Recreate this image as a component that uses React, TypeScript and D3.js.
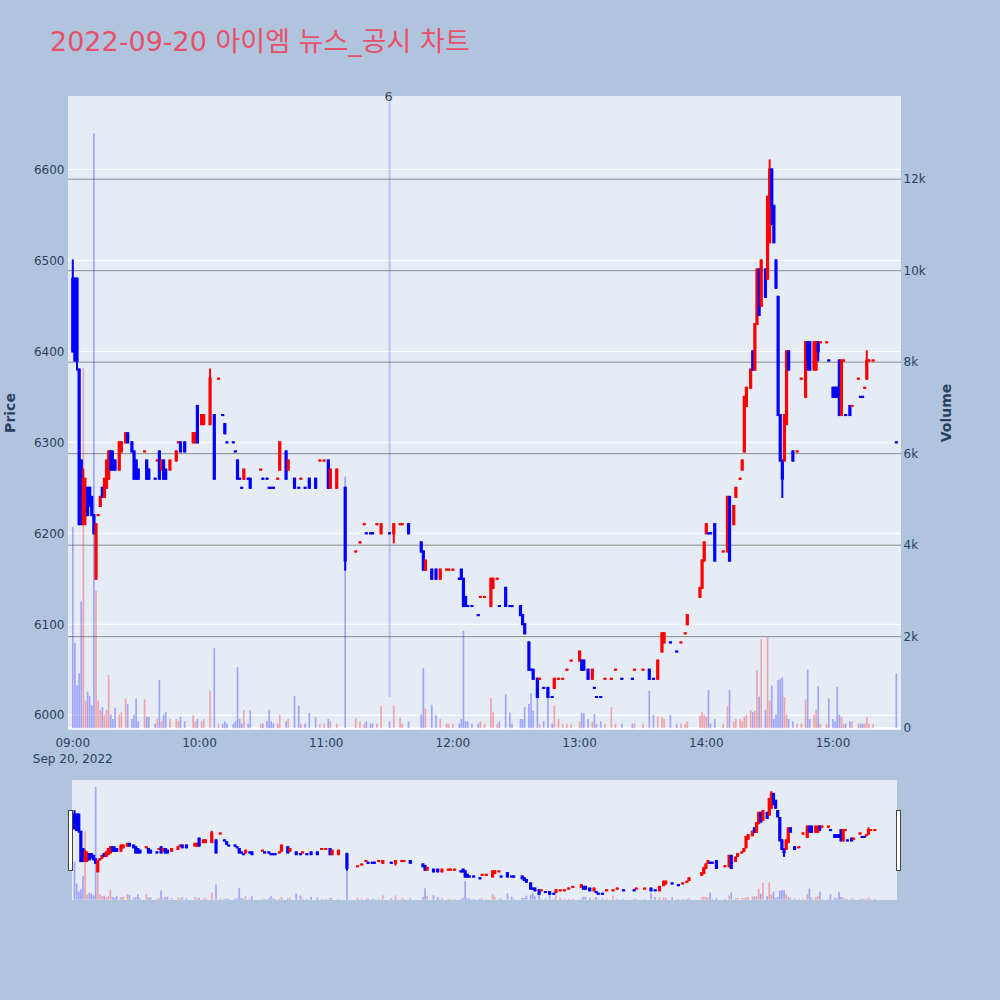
import React from "react";
import * as d3 from "d3";

// ---- 1-minute bars, 2022-09-20 ----
const sessionDay = "2022-09-20";
const chartTitle = "2022-09-20 아이엠 뉴스_공시 차트";

const times = [
  "09:00","09:01","09:02","09:03","09:04","09:05","09:06","09:07","09:08","09:09",
  "09:10","09:11","09:12","09:13","09:14","09:15","09:16","09:17","09:18","09:19",
  "09:20","09:22","09:23","09:25","09:26","09:28","09:29","09:30","09:31","09:34",
  "09:35","09:36","09:39","09:40","09:41","09:42","09:43","09:44","09:46","09:49",
  "09:50","09:51","09:53","09:57","09:58","09:59","10:01","10:02","10:05","10:07",
  "10:09","10:11","10:12","10:13","10:16","10:17","10:18","10:19","10:20","10:21",
  "10:23","10:24","10:29","10:30","10:32","10:33","10:34","10:35","10:37","10:38",
  "10:41","10:42","10:45","10:47","10:48","10:50","10:52","10:55","10:57","10:59",
  "11:01","11:02","11:05","11:09","11:14","11:16","11:18","11:19","11:21","11:22",
  "11:24","11:26","11:30","11:32","11:35","11:36","11:39","11:45","11:46","11:47",
  "11:50","11:52","11:54","11:57","11:58","12:00","12:03","12:04","12:05","12:06",
  "12:07","12:09","12:12","12:13","12:15","12:18","12:19","12:21","12:22","12:25",
  "12:27","12:28","12:32","12:33","12:34","12:36","12:37","12:38","12:40","12:41",
  "12:43","12:45","12:47","12:48","12:50","12:52","12:54","12:56","13:00","13:01",
  "13:02","13:04","13:06","13:07","13:08","13:10","13:12","13:15","13:17","13:20",
  "13:25","13:26","13:30","13:33","13:35","13:37","13:39","13:40","13:43","13:46",
  "13:48","13:50","13:51","13:57","13:58","13:59","14:00","14:01","14:02","14:04",
  "14:08","14:10","14:11","14:13","14:14","14:16","14:17","14:18","14:19","14:21",
  "14:22","14:23","14:24","14:25","14:26","14:28","14:29","14:30","14:31","14:32",
  "14:33","14:34","14:35","14:36","14:37","14:38","14:39","14:41","14:43","14:45",
  "14:47","14:48","14:49","14:51","14:52","14:53","14:54","14:57","14:58","15:00",
  "15:01","15:02","15:03","15:04","15:05","15:06","15:08","15:09","15:12","15:13",
  "15:14","15:15","15:16","15:17","15:19","15:30",
];

const opens = [
  6480,6480,6480,6380,6280,6210,6220,6250,6250,6240,
  6220,6150,6220,6230,6250,6240,6250,6260,6290,6280,
  6280,6270,6290,6300,6310,6300,6290,6280,6270,6290,
  6280,6270,6260,6280,6290,6270,6280,6270,6270,6280,
  6300,6300,6300,6300,6300,6340,6320,6320,6320,6330,
  6370,6330,6320,6300,6300,6290,6280,6260,6250,6260,
  6260,6260,6270,6260,6260,6250,6250,6250,6260,6270,
  6290,6270,6260,6250,6260,6250,6260,6260,6280,6280,
  6280,6250,6250,6250,6180,6190,6210,6200,6200,6200,
  6210,6200,6200,6200,6210,6210,6210,6190,6180,6160,
  6160,6160,6150,6160,6160,6160,6150,6160,6150,6130,
  6120,6120,6110,6130,6130,6120,6140,6150,6120,6140,
  6120,6120,6120,6110,6100,6080,6050,6050,6040,6040,
  6030,6030,6020,6030,6040,6040,6050,6060,6060,6060,
  6060,6050,6040,6030,6020,6020,6040,6040,6050,6040,
  6040,6050,6050,6050,6040,6040,6070,6080,6080,6070,
  6080,6090,6100,6130,6140,6170,6200,6200,6200,6210,
  6180,6180,6240,6210,6240,6260,6270,6290,6340,6360,
  6400,6380,6430,6490,6450,6490,6480,6520,6600,6560,
  6500,6460,6330,6280,6280,6320,6400,6290,6290,6370,
  6350,6410,6410,6380,6380,6410,6410,6410,6390,6360,
  6360,6360,6390,6330,6390,6330,6340,6340,6370,6350,
  6350,6360,6370,6390,6390,6300,
];

const highs = [
  6500,6480,6480,6380,6280,6270,6260,6250,6250,6240,
  6220,6210,6220,6240,6250,6260,6280,6290,6290,6290,
  6280,6300,6300,6310,6310,6300,6290,6280,6270,6290,
  6280,6270,6260,6280,6290,6280,6280,6270,6280,6290,
  6300,6300,6300,6310,6310,6340,6330,6330,6380,6330,
  6370,6330,6320,6300,6300,6290,6280,6260,6250,6270,
  6260,6260,6270,6260,6260,6250,6250,6250,6260,6300,
  6290,6280,6260,6250,6260,6250,6260,6260,6280,6280,
  6280,6270,6270,6250,6180,6190,6210,6200,6200,6200,
  6210,6210,6200,6210,6210,6210,6210,6190,6180,6170,
  6160,6160,6160,6160,6160,6160,6150,6160,6150,6130,
  6120,6120,6110,6130,6130,6150,6150,6150,6120,6140,
  6120,6120,6120,6110,6100,6080,6050,6050,6040,6040,
  6030,6030,6020,6040,6040,6040,6050,6060,6070,6060,
  6060,6050,6050,6030,6020,6020,6040,6040,6050,6040,
  6040,6050,6050,6050,6040,6060,6090,6090,6080,6070,
  6080,6090,6110,6140,6170,6190,6210,6200,6200,6210,
  6180,6240,6240,6230,6250,6260,6280,6350,6360,6380,
  6400,6430,6490,6490,6500,6490,6570,6610,6600,6560,
  6500,6460,6330,6280,6330,6400,6400,6290,6290,6370,
  6410,6410,6410,6410,6410,6410,6410,6410,6390,6360,
  6360,6360,6390,6390,6390,6330,6340,6340,6370,6350,
  6350,6360,6400,6390,6390,6300,
];

const lows = [
  6400,6390,6380,6210,6210,6210,6210,6220,6230,6220,
  6200,6150,6220,6230,6240,6240,6250,6260,6270,6270,
  6270,6270,6290,6300,6300,6290,6260,6260,6260,6290,
  6260,6260,6260,6280,6260,6270,6260,6260,6270,6280,
  6300,6290,6290,6300,6300,6300,6320,6320,6320,6260,
  6370,6330,6310,6300,6300,6290,6260,6260,6250,6260,
  6260,6250,6270,6260,6260,6250,6250,6250,6260,6270,
  6260,6270,6250,6250,6260,6250,6250,6250,6280,6280,
  6250,6250,6250,6160,6180,6190,6210,6200,6200,6200,
  6210,6200,6200,6190,6210,6210,6200,6180,6160,6160,
  6150,6150,6150,6160,6160,6160,6150,6150,6120,6120,
  6120,6120,6110,6130,6130,6120,6140,6150,6120,6120,
  6120,6120,6110,6100,6090,6050,6050,6040,6020,6040,
  6030,6020,6020,6030,6040,6040,6050,6060,6060,6050,
  6050,6040,6040,6030,6020,6020,6040,6040,6050,6040,
  6040,6050,6050,6040,6040,6040,6070,6080,6080,6070,
  6080,6090,6100,6130,6140,6170,6200,6200,6200,6170,
  6180,6180,6170,6210,6240,6260,6270,6290,6340,6360,
  6380,6380,6430,6440,6450,6460,6480,6520,6540,6520,
  6470,6330,6280,6240,6280,6320,6380,6280,6290,6370,
  6350,6380,6380,6380,6380,6390,6410,6410,6390,6350,
  6350,6350,6330,6330,6390,6330,6330,6340,6370,6350,
  6350,6360,6370,6390,6390,6300,
];

const closes = [
  6400,6390,6390,6210,6230,6260,6250,6220,6240,6220,
  6200,6210,6220,6240,6240,6260,6280,6290,6270,6270,
  6270,6300,6300,6310,6300,6290,6260,6260,6260,6290,
  6260,6260,6260,6280,6260,6280,6260,6260,6280,6290,
  6300,6290,6290,6310,6310,6300,6330,6330,6370,6260,
  6370,6330,6310,6300,6300,6290,6260,6260,6250,6270,
  6260,6250,6270,6260,6260,6250,6250,6250,6260,6300,
  6260,6280,6250,6250,6260,6250,6250,6250,6280,6280,
  6250,6270,6270,6170,6180,6190,6210,6200,6200,6200,
  6210,6210,6200,6210,6210,6210,6200,6180,6160,6170,
  6150,6150,6160,6160,6160,6160,6150,6150,6120,6120,
  6120,6120,6110,6130,6130,6150,6150,6150,6120,6120,
  6120,6120,6110,6100,6090,6050,6050,6040,6020,6040,
  6030,6020,6020,6040,6040,6040,6050,6060,6070,6050,
  6050,6040,6050,6030,6020,6020,6040,6040,6050,6040,
  6040,6050,6050,6040,6040,6060,6090,6090,6080,6070,
  6080,6090,6110,6140,6170,6190,6210,6200,6200,6170,
  6180,6240,6170,6230,6250,6260,6280,6350,6360,6380,
  6380,6430,6490,6440,6500,6460,6570,6600,6560,6520,
  6470,6330,6280,6260,6330,6400,6380,6280,6290,6370,
  6410,6390,6380,6410,6410,6400,6410,6410,6390,6350,
  6350,6350,6330,6390,6390,6330,6330,6340,6370,6350,
  6350,6360,6390,6390,6390,6300,
];

const volumes = [
  4400,1860,940,1200,2770,7870,600,800,700,500,
  13000,3000,600,400,460,300,400,1160,300,200,
  450,300,350,650,530,200,300,650,150,630,
  250,250,100,200,1050,150,300,350,200,200,
  150,250,150,280,150,200,150,200,820,1750,
  100,100,150,100,100,150,1330,200,100,400,
  100,390,100,100,150,400,150,100,100,300,
  150,200,700,490,100,100,335,240,100,100,
  200,150,100,5500,225,150,100,150,100,100,
  100,490,150,500,220,100,150,300,1310,430,
  510,280,200,100,100,100,100,200,2130,150,
  150,100,100,150,100,660,350,100,150,740,
  340,100,200,200,460,530,760,380,870,100,
  150,760,100,500,200,100,100,100,150,335,
  330,200,150,310,100,150,100,460,100,100,
  100,100,100,815,290,250,250,200,290,100,
  100,100,150,270,360,300,250,830,100,200,
  100,480,830,150,200,200,150,250,300,400,
  350,380,1260,690,1950,400,1990,600,930,200,
  300,1050,1080,1110,680,300,200,150,100,100,
  630,1280,200,300,400,920,100,100,650,200,
  150,900,300,250,100,100,150,150,100,100,
  100,100,250,100,100,1200,
];

// axis labels
const priceTicks = [6000, 6100, 6200, 6300, 6400, 6500, 6600];
const volumeTicks = [0, 2000, 4000, 6000, 8000, 10000, 12000];
const hourTicks = ["09:00", "10:00", "11:00", "12:00", "13:00", "14:00", "15:00"];
const dateLabel = "Sep 20, 2022";

// disclosure marker
const newsTime = "11:30";
const newsLabel = "6";
const newsPriceSpan = [6020, 6681];

// ---- layout ----
const PLOT = { left: 68, right: 901, top: 96, bottom: 730 };
const SLIDER = { left: 72, right: 897, top: 780, bottom: 900 };
const UP = "#ff0000";
const DOWN = "#0000ff";
const FONT = '"DejaVu Sans", Verdana, sans-serif';
const TICK_COLOR = "#2a3f5f";

const parseTime = d3.timeParse("%Y-%m-%d %H:%M");
const at = (t: string) => parseTime(`${sessionDay} ${t}`) as Date;
const open0 = at("09:00");
const shift = (min: number) => new Date(open0.getTime() + min * 60000);

const x = d3.scaleTime().domain([shift(-2.27), shift(392.2)]).range([PLOT.left, PLOT.right]);
const xs = d3.scaleTime().domain([shift(-1.2), shift(389.5)]).range([SLIDER.left, SLIDER.right]);
const yPrice = d3.scaleLinear().domain([5983.7, 6680.8]).range([PLOT.bottom, PLOT.top]);
const yVol = d3.scaleLinear().domain([-40, 13818]).range([PLOT.bottom, PLOT.top]);
const yPriceS = yPrice.copy().range([SLIDER.bottom, SLIDER.top]);
const yVolS = yVol.copy().range([SLIDER.bottom, SLIDER.top]);

const dates = times.map(at);

// direction: close vs open; flat bars follow the previous close, then the previous bar
const rising: boolean[] = [];
closes.forEach((c, i) => {
  const o = opens[i];
  let up: boolean;
  if (c !== o) up = c > o;
  else if (i > 0 && c !== closes[i - 1]) up = c > closes[i - 1];
  else up = i > 0 ? rising[i - 1] : true;
  rising.push(up);
});

const volFmt = d3.format("~s");

type XScale = d3.ScaleTime<number, number>;
type YScale = d3.ScaleLinear<number, number>;

function VolumeBars({ xScale, yScale }: { xScale: XScale; yScale: YScale }) {
  const w = 1.7;
  return (
    <g>
      {volumes.map((v, i) => {
        const cx = xScale(dates[i]);
        const y0 = yScale(0);
        const y1 = yScale(v);
        return (
          <rect
            key={i}
            x={cx - w / 2}
            y={y1}
            width={w}
            height={Math.max(0, y0 - y1)}
            fill={rising[i] ? UP : DOWN}
            fillOpacity={0.3}
          />
        );
      })}
    </g>
  );
}

function Candles({ xScale, yScale }: { xScale: XScale; yScale: YScale }) {
  const bodyW = 3.2; // box incl. 2px outline
  const wickW = 2;
  return (
    <g>
      {times.map((_, i) => {
        const cx = xScale(dates[i]);
        const color = rising[i] ? UP : DOWN;
        const yh = yScale(highs[i]);
        const yl = yScale(lows[i]);
        const yTop = yScale(Math.max(opens[i], closes[i]));
        const yBot = yScale(Math.min(opens[i], closes[i]));
        return (
          <g key={i} fill={color}>
            <rect x={cx - wickW / 2} y={yh - 1} width={wickW} height={yl - yh + 2} />
            <rect x={cx - bodyW / 2} y={yTop - 1} width={bodyW} height={yBot - yTop + 2} />
          </g>
        );
      })}
    </g>
  );
}

export default function App() {
  const newsX = x(at(newsTime));
  const pw = PLOT.right - PLOT.left;
  const midY = (PLOT.top + PLOT.bottom) / 2;
  return (
    <svg
      width={1000}
      height={1000}
      viewBox="0 0 1000 1000"
      style={{ position: "absolute", left: 0, top: 0, display: "block" }}
      fontFamily={FONT}
    >
      <defs>
        <clipPath id="plotClip">
          <rect x={PLOT.left} y={PLOT.top} width={pw} height={PLOT.bottom - PLOT.top} />
        </clipPath>
        <clipPath id="sliderClip">
          <rect x={SLIDER.left} y={SLIDER.top} width={SLIDER.right - SLIDER.left} height={SLIDER.bottom - SLIDER.top} />
        </clipPath>
      </defs>

      <rect width={1000} height={1000} fill="#b0c4de" />

      <text
        x={50}
        y={51}
        fontSize={27}
        fill="#e8506a"
        fontFamily='"DejaVu Sans", "Noto Sans CJK KR", sans-serif'
      >
        {chartTitle}
      </text>

      {/* main plot */}
      <rect x={PLOT.left} y={PLOT.top} width={pw} height={PLOT.bottom - PLOT.top} fill="#e5ecf6" />
      {priceTicks.map((p) => (
        <line key={p} x1={PLOT.left} x2={PLOT.right} y1={yPrice(p)} y2={yPrice(p)} stroke="#ffffff" strokeWidth={1} />
      ))}
      {volumeTicks.filter((v) => v > 0).map((v) => (
        <line key={v} x1={PLOT.left} x2={PLOT.right} y1={yVol(v)} y2={yVol(v)} stroke="#8a8a8a" strokeWidth={1} />
      ))}
      <line x1={PLOT.left} x2={PLOT.right} y1={yVol(0)} y2={yVol(0)} stroke="#ffffff" strokeWidth={2} />

      <g clipPath="url(#plotClip)">
        <VolumeBars xScale={x} yScale={yVol} />
        <line
          x1={newsX}
          x2={newsX}
          y1={yPrice(newsPriceSpan[0])}
          y2={yPrice(newsPriceSpan[1])}
          stroke="rgb(65,105,225)"
          strokeOpacity={0.3}
          strokeWidth={2}
        />
        <Candles xScale={x} yScale={yPrice} />
      </g>
      <text x={newsX - 1} y={101} fontSize={13} fill="#444" textAnchor="middle">
        {newsLabel}
      </text>

      {/* axes */}
      {priceTicks.map((p) => (
        <text key={p} x={64.5} y={yPrice(p) + 4.3} fontSize={12} fill={TICK_COLOR} textAnchor="end">
          {p}
        </text>
      ))}
      {volumeTicks.map((v) => (
        <text key={v} x={903.5} y={yVol(v) + 4.3} fontSize={12} fill={TICK_COLOR} textAnchor="start">
          {volFmt(v)}
        </text>
      ))}
      {hourTicks.map((h) => (
        <text key={h} x={x(at(h))} y={747} fontSize={12} fill={TICK_COLOR} textAnchor="middle">
          {h}
        </text>
      ))}
      <text x={x(at(hourTicks[0]))} y={762.5} fontSize={12} fill={TICK_COLOR} textAnchor="middle">
        {dateLabel}
      </text>
      <text
        transform={`translate(14.5,${midY}) rotate(-90)`}
        fontSize={14}
        fontWeight="bold"
        fill={TICK_COLOR}
        textAnchor="middle"
      >
        Price
      </text>
      <text
        transform={`translate(951,${midY}) rotate(-90)`}
        fontSize={14}
        fontWeight="bold"
        fill={TICK_COLOR}
        textAnchor="middle"
      >
        Volume
      </text>

      {/* range slider */}
      <rect
        x={SLIDER.left}
        y={SLIDER.top}
        width={SLIDER.right - SLIDER.left}
        height={SLIDER.bottom - SLIDER.top}
        fill="#e5ecf6"
      />
      <g clipPath="url(#sliderClip)">
        <VolumeBars xScale={xs} yScale={yVolS} />
        <Candles xScale={xs} yScale={yPriceS} />
      </g>
      {[SLIDER.left - 2, SLIDER.right + 1].map((gx, i) => (
        <rect key={i} x={gx - 1.5} y={810.5} width={4} height={60} fill="#ffffff" stroke="#444" strokeWidth={1} />
      ))}
    </svg>
  );
}
